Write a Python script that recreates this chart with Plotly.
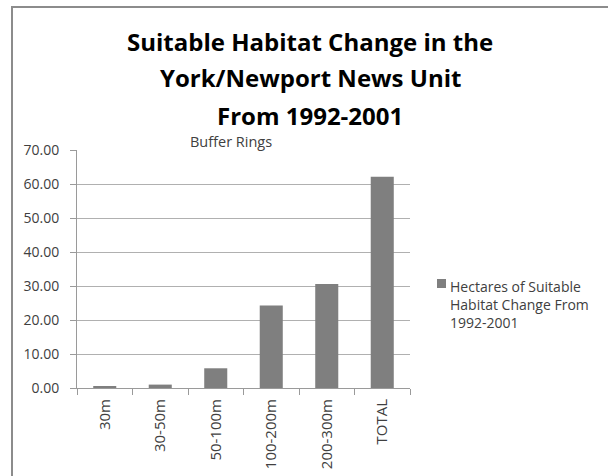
import plotly.graph_objects as go

# Buffer ring categories and hectares of suitable habitat change (1992-2001)
rings = ["30m", "30-50m", "50-100m", "100-200m", "200-300m", "TOTAL"]
hectares = [0.4, 1.0, 5.8, 24.3, 30.6, 62.1]
y_ticks = [0, 10, 20, 30, 40, 50, 60, 70]
y_tick_labels = ["0.00", "10.00", "20.00", "30.00", "40.00", "50.00", "60.00", "70.00"]

title_lines = ["Suitable Habitat Change in the", "York/Newport News Unit", "From 1992-2001"]
series_name = "Hectares of Suitable<br>Habitat Change From<br>1992-2001"
axis_title = "Buffer Rings"

W, H = 608, 476
L, R, T, B = 77, 198, 150, 88
PW, PH = W - L - R, H - T - B
FONT = "Open Sans"
BAR_COLOR = "#7f7f7f"
TEXT_COLOR = "#404040"


def px_x(x):
    """Pixel column -> paper x."""
    return (x - L) / PW


def px_y(y):
    """Pixel row (from top) -> paper y."""
    return (H - B - y) / PH


fig = go.Figure()
fig.add_trace(go.Bar(
    x=rings, y=hectares, name="Hectares",
    marker=dict(color=BAR_COLOR, line=dict(width=0)),
    showlegend=False,
))

fig.update_layout(
    width=W, height=H,
    margin=dict(l=L, r=R, t=T, b=B, pad=0, autoexpand=False),
    paper_bgcolor="white", plot_bgcolor="white",
    bargap=0.585,
    font=dict(family=FONT, size=12, color=TEXT_COLOR),
    showlegend=False,
    xaxis=dict(
        type="category", tickangle=-90, showgrid=False, automargin=False,
        showline=True, linecolor="#9a9a9a", linewidth=1,
        ticks="outside", ticklen=6, tickcolor="#9a9a9a", tickson="boundaries",
        ticklabelstandoff=4,
        tickfont=dict(family=FONT, size=15, color=TEXT_COLOR),
    ),
    yaxis=dict(
        range=[0, 70], tickvals=y_ticks, ticktext=y_tick_labels,
        automargin=False,
        showgrid=True, gridcolor="#b0b0b0", gridwidth=1,
        showline=True, linecolor="#9a9a9a", linewidth=1,
        ticks="outside", ticklen=6, tickcolor="#9a9a9a",
        ticklabelstandoff=8,
        tickfont=dict(family=FONT, size=14, color=TEXT_COLOR),
        zeroline=False,
    ),
)

# Chart title, one annotation per line
for i, line in enumerate(title_lines):
    fig.add_annotation(
        text=line, xref="paper", yref="paper",
        x=px_x(310), xanchor="center",
        y=px_y(41 + 37 * i), yanchor="middle",
        showarrow=False, borderpad=0,
        font=dict(family=FONT, size=24, color="#000000", weight="bold"),
    )

# Category axis title above the plot area
fig.add_annotation(
    text=axis_title, xref="paper", yref="paper",
    x=px_x(231), xanchor="center",
    y=px_y(142), yanchor="middle",
    showarrow=False, borderpad=0,
    font=dict(family=FONT, size=14.5, color=TEXT_COLOR),
)

# Legend: key square and wrapped series label
fig.add_shape(
    type="rect", xref="paper", yref="paper",
    x0=px_x(437), x1=px_x(446), y0=px_y(288), y1=px_y(279),
    line=dict(width=0), fillcolor=BAR_COLOR,
)
fig.add_annotation(
    text=series_name, xref="paper", yref="paper",
    x=px_x(448), xanchor="left", align="left",
    y=px_y(275), yanchor="top",
    showarrow=False,
    font=dict(family=FONT, size=14, color=TEXT_COLOR),
)

# Chart frame: left and top edges
frame = dict(color="#8c8c8c", width=2)
fig.add_shape(type="line", xref="paper", yref="paper",
              x0=px_x(12), x1=px_x(12), y0=px_y(H + 5), y1=px_y(7), line=frame)
fig.add_shape(type="line", xref="paper", yref="paper",
              x0=px_x(11), x1=px_x(W + 5), y0=px_y(7), y1=px_y(7), line=frame)

fig.write_html("out.html")
